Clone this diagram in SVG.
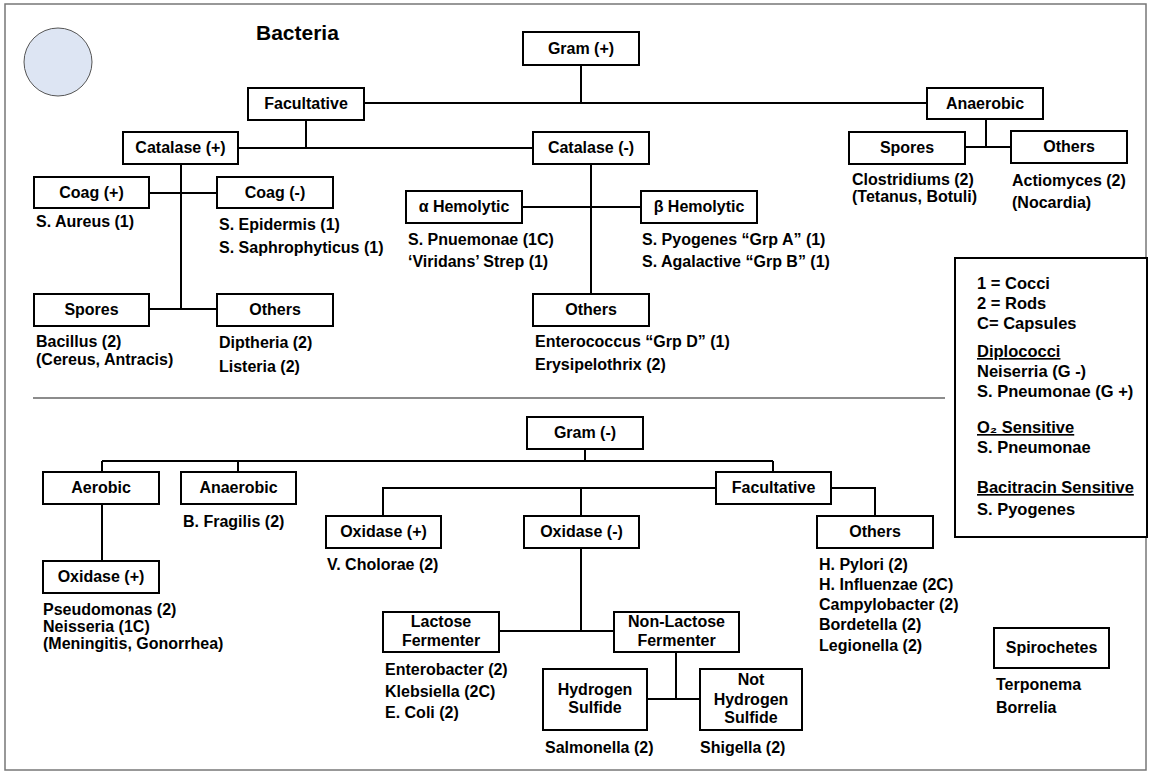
<svg xmlns="http://www.w3.org/2000/svg" width="1151" height="773" viewBox="0 0 1151 773">
<style>
.box{fill:#fff;stroke:#000;stroke-width:2}
.lbl{font-family:"Liberation Sans",Arial,sans-serif;font-weight:bold;font-size:16px;fill:#000;text-anchor:middle}
.leaf{font-family:"Liberation Sans",Arial,sans-serif;font-weight:bold;font-size:16px;fill:#000}
.leg{font-family:"Liberation Sans",Arial,sans-serif;font-weight:bold;font-size:16.5px;fill:#000}
.con{stroke:#000;stroke-width:2;fill:none}
</style>
<rect x="5" y="4" width="1141" height="766" fill="#fff" stroke="#777" stroke-width="1.5"/>
<circle cx="58" cy="62" r="34" fill="#dde5f3" stroke="#555" stroke-width="1"/>
<text x="256" y="40" font-family="Liberation Sans,Arial,sans-serif" font-weight="bold" font-size="21">Bacteria</text>
<line x1="33" y1="398" x2="945" y2="398" stroke="#666" stroke-width="1.5"/>

<g id="connectors">
<path class="con" d="M581 65V103M364 103H927M306 120V148M238 148H533M986 119V147M965 147H1011M181 164V309M149 193H217M149 309H217M591 165V294M522 207H641"/>
<path class="con" d="M585 449V461M102 461H773M102 461V472M238 461V472M773 461V472M102 504V561M716 488H383V516M581 488V516M831 488H875V516M581 548V631M499 631H614M676 652V699M647 699H700"/>
</g>

<g id="gram_pos"><rect class="box" x="523" y="32" width="116" height="33"/><text class="lbl" x="581" y="54">Gram (+)</text></g>
<g id="facultative_top"><rect class="box" x="248" y="88" width="116" height="32"/><text class="lbl" x="306" y="109">Facultative</text></g>
<g id="anaerobic_top"><rect class="box" x="927" y="88" width="116" height="31"/><text class="lbl" x="985" y="109">Anaerobic</text></g>
<g id="spores_anaerobic"><rect class="box" x="849" y="132" width="116" height="32"/><text class="lbl" x="907" y="153">Spores</text>
<text class="leaf" x="852" y="185">Clostridiums (2)</text><text class="leaf" x="852" y="202">(Tetanus, Botuli)</text></g>
<g id="others_anaerobic"><rect class="box" x="1011" y="131" width="116" height="32"/><text class="lbl" x="1069" y="152">Others</text>
<text class="leaf" x="1012" y="186">Actiomyces (2)</text><text class="leaf" x="1012" y="208">(Nocardia)</text></g>
<g id="catalase_pos"><rect class="box" x="123" y="132" width="115" height="32"/><text class="lbl" x="180.5" y="153">Catalase (+)</text></g>
<g id="catalase_neg"><rect class="box" x="533" y="132" width="116" height="32"/><text class="lbl" x="591" y="153">Catalase (-)</text></g>
<g id="coag_pos"><rect class="box" x="34" y="177" width="115" height="31"/><text class="lbl" x="91.5" y="198">Coag (+)</text>
<text class="leaf" x="36" y="227">S. Aureus (1)</text></g>
<g id="coag_neg"><rect class="box" x="217" y="177" width="116" height="31"/><text class="lbl" x="275" y="198">Coag (-)</text>
<text class="leaf" x="219" y="230">S. Epidermis (1)</text><text class="leaf" x="219" y="253">S. Saphrophyticus (1)</text></g>
<g id="spores_catalase"><rect class="box" x="34" y="294" width="115" height="32"/><text class="lbl" x="91.5" y="315">Spores</text>
<text class="leaf" x="36" y="347">Bacillus (2)</text><text class="leaf" x="36" y="365">(Cereus, Antracis)</text></g>
<g id="others_catalase"><rect class="box" x="217" y="294" width="116" height="32"/><text class="lbl" x="275" y="315">Others</text>
<text class="leaf" x="219" y="348">Diptheria (2)</text><text class="leaf" x="219" y="372">Listeria (2)</text></g>
<g id="alpha_hemolytic"><rect class="box" x="406" y="191" width="116" height="32"/><text class="lbl" x="464" y="212">α Hemolytic</text>
<text class="leaf" x="408" y="245">S. Pnuemonae (1C)</text><text class="leaf" x="408" y="267">‘Viridans’ Strep (1)</text></g>
<g id="beta_hemolytic"><rect class="box" x="641" y="191" width="116" height="32"/><text class="lbl" x="699" y="212">β Hemolytic</text>
<text class="leaf" x="642" y="245">S. Pyogenes “Grp A” (1)</text><text class="leaf" x="642" y="267">S. Agalactive “Grp B” (1)</text></g>
<g id="others_catalase_neg"><rect class="box" x="533" y="294" width="116" height="32"/><text class="lbl" x="591" y="315">Others</text>
<text class="leaf" x="535" y="347">Enterococcus “Grp D” (1)</text><text class="leaf" x="535" y="370">Erysipelothrix (2)</text></g>

<g id="legend"><rect x="955" y="258" width="192" height="279" fill="#fff" stroke="#000" stroke-width="2"/>
<text class="leg" x="977" y="289">1 = Cocci</text>
<text class="leg" x="977" y="309">2 = Rods</text>
<text class="leg" x="977" y="329">C= Capsules</text>
<text class="leg" x="977" y="357" text-decoration="underline">Diplococci</text>
<text class="leg" x="977" y="377">Neiserria (G -)</text>
<text class="leg" x="977" y="397">S. Pneumonae (G +)</text>
<text class="leg" x="977" y="433" text-decoration="underline">O₂ Sensitive</text>
<text class="leg" x="977" y="453">S. Pneumonae</text>
<text class="leg" x="977" y="493" text-decoration="underline">Bacitracin Sensitive</text>
<text class="leg" x="977" y="515">S. Pyogenes</text></g>

<g id="gram_neg"><rect class="box" x="527" y="417" width="116" height="32"/><text class="lbl" x="585" y="438">Gram (-)</text></g>
<g id="aerobic"><rect class="box" x="43" y="472" width="116" height="32"/><text class="lbl" x="101" y="493">Aerobic</text></g>
<g id="anaerobic_bottom"><rect class="box" x="181" y="472" width="115" height="32"/><text class="lbl" x="238.5" y="493">Anaerobic</text>
<text class="leaf" x="183" y="527">B. Fragilis (2)</text></g>
<g id="facultative_bottom"><rect class="box" x="716" y="472" width="115" height="32"/><text class="lbl" x="773.5" y="493">Facultative</text></g>
<g id="oxidase_pos_aerobic"><rect class="box" x="43" y="561" width="116" height="32"/><text class="lbl" x="101" y="582">Oxidase (+)</text>
<text class="leaf" x="43" y="615">Pseudomonas (2)</text><text class="leaf" x="43" y="632">Neisseria (1C)</text><text class="leaf" x="43" y="649">(Meningitis, Gonorrhea)</text></g>
<g id="oxidase_pos_fac"><rect class="box" x="326" y="516" width="115" height="32"/><text class="lbl" x="383.5" y="537">Oxidase (+)</text>
<text class="leaf" x="327" y="570">V. Cholorae (2)</text></g>
<g id="oxidase_neg"><rect class="box" x="524" y="516" width="115" height="32"/><text class="lbl" x="581.5" y="537">Oxidase (-)</text></g>
<g id="others_bottom"><rect class="box" x="817" y="516" width="116" height="32"/><text class="lbl" x="875" y="537">Others</text>
<text class="leaf" x="819" y="570">H. Pylori (2)</text><text class="leaf" x="819" y="590">H. Influenzae (2C)</text><text class="leaf" x="819" y="610">Campylobacter (2)</text><text class="leaf" x="819" y="630">Bordetella (2)</text><text class="leaf" x="819" y="651">Legionella (2)</text></g>
<g id="lactose"><rect class="box" x="383" y="612" width="116" height="40"/><text class="lbl" x="441" y="627">Lactose</text><text class="lbl" x="441" y="646">Fermenter</text>
<text class="leaf" x="385" y="675">Enterobacter (2)</text><text class="leaf" x="385" y="697">Klebsiella (2C)</text><text class="leaf" x="385" y="718">E. Coli (2)</text></g>
<g id="non_lactose"><rect class="box" x="614" y="612" width="125" height="40"/><text class="lbl" x="676.5" y="627">Non-Lactose</text><text class="lbl" x="676.5" y="646">Fermenter</text></g>
<g id="h2s"><rect class="box" x="543" y="669" width="104" height="61"/><text class="lbl" x="595" y="695">Hydrogen</text><text class="lbl" x="595" y="713">Sulfide</text>
<text class="leaf" x="545" y="753">Salmonella (2)</text></g>
<g id="not_h2s"><rect class="box" x="700" y="669" width="102" height="61"/><text class="lbl" x="751" y="685">Not</text><text class="lbl" x="751" y="705">Hydrogen</text><text class="lbl" x="751" y="723">Sulfide</text>
<text class="leaf" x="700" y="753">Shigella (2)</text></g>
<g id="spirochetes"><rect class="box" x="994" y="628" width="115" height="40"/><text class="lbl" x="1051.5" y="653">Spirochetes</text>
<text class="leaf" x="996" y="690">Terponema</text><text class="leaf" x="996" y="713">Borrelia</text></g>
</svg>
